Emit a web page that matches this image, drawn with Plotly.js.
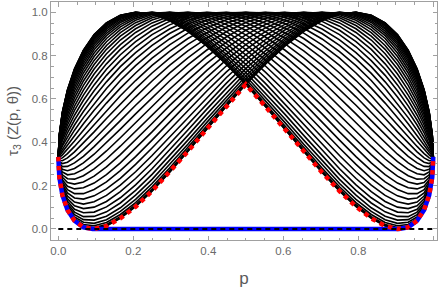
<!DOCTYPE html>
<html><head><meta charset="utf-8">
<script src="https://cdn.plot.ly/plotly-3.0.1.min.js"></script>
<style>html,body{margin:0;padding:0;background:#fff}#chart{width:441px;height:289px}</style>
</head><body><div id="chart"></div>
<script>
// p grid (denser near the ends)
const pGrid = [0, 0.002739, 0.010926, 0.024472, 0.043227, 0.066987, 0.095492, 0.128428, 0.165435, 0.206107, 0.25, 0.296632, 0.345492, 0.396044, 0.447736, 0.5, 0.552264, 0.603956, 0.654508, 0.703368, 0.75, 0.793893, 0.834565, 0.871572, 0.904508, 0.933013, 0.956773, 0.975528, 0.989074, 0.997261, 1];
// same grid read from the right end (used for the mirrored curves theta -> 180 - theta)
const pGridRev = [1, 0.997261, 0.989074, 0.975528, 0.956773, 0.933013, 0.904508, 0.871572, 0.834565, 0.793893, 0.75, 0.703368, 0.654508, 0.603956, 0.552264, 0.5, 0.447736, 0.396044, 0.345492, 0.296632, 0.25, 0.206107, 0.165435, 0.128428, 0.095492, 0.066987, 0.043227, 0.024472, 0.010926, 0.002739, 0];

const thetaDeg = [0, 4, 8, 12, 16, 20, 24, 28, 32, 36, 40, 44, 48, 52, 56, 60, 64, 68, 72, 76, 80, 84, 88];

const tau0  = [0.333,0.239,0.156,0.088,0.038,0.008,0.000,0.014,0.049,0.103,0.175,0.261,0.358,0.461,0.565,0.667,0.761,0.844,0.912,0.962,0.992,1.000,0.986,0.951,0.897,0.825,0.739,0.642,0.539,0.435,0.333];
const tau4  = [0.333,0.239,0.157,0.089,0.039,0.010,0.002,0.016,0.051,0.105,0.177,0.263,0.360,0.463,0.567,0.668,0.762,0.845,0.913,0.962,0.992,1.000,0.986,0.951,0.896,0.824,0.738,0.642,0.539,0.435,0.333];
const tau8  = [0.333,0.240,0.158,0.091,0.043,0.014,0.007,0.021,0.057,0.112,0.184,0.270,0.366,0.469,0.572,0.673,0.766,0.848,0.915,0.964,0.992,1.000,0.985,0.950,0.895,0.823,0.736,0.640,0.538,0.434,0.333];
const tau12 = [0.333,0.241,0.161,0.096,0.048,0.021,0.015,0.030,0.067,0.122,0.195,0.281,0.377,0.478,0.581,0.681,0.773,0.854,0.919,0.966,0.993,0.999,0.984,0.948,0.892,0.820,0.734,0.638,0.536,0.433,0.333];
const tau16 = [0.333,0.243,0.165,0.101,0.056,0.031,0.026,0.043,0.081,0.137,0.210,0.296,0.391,0.492,0.594,0.692,0.782,0.861,0.924,0.969,0.995,0.999,0.982,0.945,0.888,0.815,0.729,0.634,0.533,0.431,0.333];
const tau20 = [0.333,0.245,0.169,0.109,0.066,0.043,0.041,0.059,0.098,0.156,0.229,0.315,0.410,0.509,0.609,0.706,0.794,0.870,0.930,0.973,0.996,0.998,0.980,0.941,0.883,0.810,0.724,0.629,0.530,0.430,0.333];
const tau24 = [0.333,0.248,0.175,0.117,0.078,0.057,0.058,0.079,0.120,0.178,0.252,0.338,0.432,0.530,0.628,0.722,0.807,0.880,0.938,0.978,0.998,0.997,0.976,0.936,0.877,0.803,0.718,0.624,0.525,0.427,0.333];
const tau28 = [0.333,0.251,0.182,0.128,0.091,0.075,0.078,0.102,0.144,0.204,0.278,0.364,0.457,0.553,0.649,0.740,0.822,0.892,0.946,0.982,0.999,0.995,0.972,0.929,0.870,0.795,0.710,0.617,0.520,0.424,0.333];
const tau32 = [0.333,0.255,0.189,0.139,0.107,0.094,0.101,0.127,0.172,0.233,0.307,0.393,0.485,0.579,0.672,0.760,0.839,0.904,0.954,0.987,1.000,0.993,0.967,0.922,0.861,0.786,0.701,0.609,0.514,0.421,0.333];
const tau36 = [0.333,0.259,0.198,0.152,0.124,0.115,0.126,0.155,0.202,0.264,0.339,0.424,0.515,0.607,0.698,0.782,0.856,0.918,0.963,0.991,1.000,0.990,0.960,0.913,0.851,0.776,0.691,0.600,0.508,0.418,0.333];
const tau40 = [0.333,0.263,0.207,0.166,0.143,0.138,0.153,0.185,0.234,0.298,0.374,0.458,0.547,0.637,0.724,0.804,0.874,0.931,0.972,0.995,0.999,0.985,0.953,0.903,0.840,0.764,0.680,0.591,0.501,0.414,0.333];
const tau44 = [0.333,0.268,0.217,0.181,0.163,0.163,0.182,0.217,0.269,0.334,0.410,0.494,0.581,0.668,0.752,0.828,0.893,0.944,0.980,0.998,0.998,0.979,0.943,0.892,0.827,0.751,0.667,0.580,0.493,0.409,0.333];
const tau48 = [0.333,0.273,0.227,0.197,0.185,0.190,0.212,0.251,0.305,0.372,0.448,0.531,0.616,0.700,0.780,0.851,0.911,0.957,0.987,1.000,0.995,0.972,0.933,0.879,0.812,0.736,0.653,0.568,0.484,0.405,0.333];
const tau52 = [0.333,0.279,0.239,0.214,0.207,0.217,0.244,0.287,0.343,0.411,0.487,0.569,0.651,0.732,0.807,0.874,0.928,0.968,0.993,1.000,0.990,0.963,0.920,0.864,0.796,0.720,0.638,0.556,0.475,0.400,0.333];
const tau56 = [0.333,0.285,0.250,0.232,0.230,0.246,0.277,0.323,0.382,0.451,0.527,0.607,0.687,0.764,0.835,0.896,0.944,0.979,0.997,0.999,0.983,0.952,0.906,0.847,0.778,0.702,0.622,0.542,0.465,0.394,0.333];
const tau60 = [0.333,0.291,0.263,0.250,0.255,0.275,0.311,0.360,0.421,0.491,0.567,0.645,0.722,0.796,0.861,0.917,0.959,0.987,1.000,0.995,0.975,0.939,0.890,0.829,0.759,0.683,0.605,0.528,0.454,0.389,0.333];
const tau64 = [0.333,0.297,0.275,0.269,0.279,0.305,0.345,0.398,0.461,0.531,0.606,0.683,0.757,0.826,0.886,0.936,0.972,0.994,1.000,0.990,0.964,0.924,0.872,0.809,0.738,0.663,0.587,0.512,0.443,0.383,0.333];
const tau68 = [0.333,0.303,0.288,0.289,0.305,0.335,0.380,0.435,0.500,0.571,0.645,0.719,0.790,0.855,0.910,0.953,0.983,0.998,0.998,0.982,0.951,0.907,0.851,0.787,0.715,0.641,0.567,0.496,0.432,0.377,0.333];
const tau72 = [0.333,0.310,0.302,0.308,0.330,0.366,0.414,0.473,0.539,0.610,0.683,0.755,0.822,0.881,0.931,0.968,0.992,1.000,0.993,0.971,0.936,0.887,0.829,0.762,0.691,0.618,0.547,0.480,0.420,0.371,0.333];
const tau76 = [0.333,0.317,0.315,0.328,0.356,0.396,0.448,0.510,0.577,0.648,0.720,0.789,0.852,0.906,0.950,0.980,0.997,0.999,0.986,0.958,0.917,0.865,0.804,0.737,0.665,0.594,0.525,0.462,0.408,0.364,0.333];
const tau80 = [0.333,0.323,0.328,0.348,0.381,0.427,0.482,0.546,0.615,0.685,0.755,0.820,0.879,0.928,0.966,0.990,1.000,0.995,0.975,0.942,0.897,0.841,0.777,0.709,0.638,0.568,0.503,0.444,0.395,0.358,0.333];
const tau84 = [0.333,0.330,0.342,0.368,0.406,0.456,0.516,0.581,0.650,0.720,0.788,0.850,0.904,0.948,0.979,0.996,0.999,0.988,0.962,0.923,0.873,0.814,0.749,0.679,0.609,0.542,0.480,0.426,0.382,0.351,0.333];
const tau88 = [0.333,0.337,0.355,0.387,0.431,0.486,0.548,0.615,0.685,0.754,0.819,0.877,0.926,0.964,0.989,1.000,0.996,0.977,0.946,0.902,0.847,0.785,0.718,0.648,0.579,0.514,0.456,0.407,0.369,0.344,0.333];

// lower envelope (red dotted)
const redEnvelope = [0.333,0.239,0.156,0.088,0.038,0.008,0.000,0.014,0.049,0.103,0.175,0.261,0.358,0.461,0.565,0.667,0.565,0.461,0.358,0.261,0.175,0.103,0.049,0.014,0.000,0.008,0.038,0.088,0.156,0.239,0.333];
// convex roof (blue)
const pBlue = [0, 0.002739, 0.010926, 0.024472, 0.043227, 0.066987, 0.0917, 0.9083, 0.933013, 0.956773, 0.975528, 0.989074, 0.997261, 1];
const blueRoof = [0.333,0.239,0.156,0.088,0.038,0.008,0.000,0.000,0.008,0.038,0.088,0.156,0.239,0.333];
// zero reference (black dashed)
const pZero = [0, 1];
const zeroLine = [0, 0];

const tickVals = [0, 0.2, 0.4, 0.6, 0.8, 1.0];
const tickText = ['0.0', '0.2', '0.4', '0.6', '0.8', '1.0'];

const curves = [tau0, tau4, tau8, tau12, tau16, tau20, tau24, tau28, tau32, tau36, tau40, tau44, tau48, tau52, tau56, tau60, tau64, tau68, tau72, tau76, tau80, tau84, tau88];

const traces = [];
curves.forEach(function (ys, i) {
  traces.push({x: pGrid, y: ys, type: 'scatter', mode: 'lines', name: 'θ=' + thetaDeg[i] + '°',
    line: {color: '#000000', width: 1.6}, hoverinfo: 'skip'});
  traces.push({x: pGridRev, y: ys, type: 'scatter', mode: 'lines', name: 'θ=' + (180 - thetaDeg[i]) + '°',
    line: {color: '#000000', width: 1.6}, hoverinfo: 'skip'});
});
traces.push({x: pBlue, y: blueRoof, type: 'scatter', mode: 'lines', name: 'roof',
  line: {color: '#0000ff', width: 4.5}});
traces.push({x: pGrid, y: redEnvelope, type: 'scatter', mode: 'lines', name: 'min',
  line: {color: '#ff0000', width: 4.5, dash: '4.5px,4.5px'}});
traces.push({x: pZero, y: zeroLine, type: 'scatter', mode: 'lines', name: 'zero',
  line: {color: '#000000', width: 2, dash: '5px,4px'}});

const axisCommon = {
  showline: true, linecolor: '#a0a0a0', linewidth: 1, mirror: 'allticks',
  ticks: 'inside', ticklen: 4.5, tickwidth: 1, tickcolor: '#a0a0a0',
  showgrid: false, zeroline: false,
  tickvals: tickVals, ticktext: tickText,
  tickfont: {family: 'Liberation Sans, Arial, sans-serif', size: 11.5, color: '#6a6a6a'},
  minor: {tick0: 0, dtick: 0.05, ticks: 'inside', ticklen: 2.5, tickwidth: 1, tickcolor: '#a0a0a0', showgrid: false}
};

const layout = {
  width: 441, height: 289,
  margin: {l: 51, r: 4, t: 2, b: 49, pad: 0},
  paper_bgcolor: '#ffffff', plot_bgcolor: '#ffffff',
  showlegend: false,
  xaxis: Object.assign({}, axisCommon, {
    range: [-0.0195, 1.0099],
    title: {text: 'p', standoff: 16, font: {family: 'Liberation Sans, Arial, sans-serif', size: 17, color: '#5a5a5a'}}
  }),
  yaxis: Object.assign({}, axisCommon, {
    range: [-0.0508, 1.0475],
    title: {text: 'τ<sub>3</sub> (Z(p, θ))', standoff: 9, font: {family: 'Liberation Sans, Arial, sans-serif', size: 15, color: '#5a5a5a'}}
  })
};

Plotly.newPlot('chart', traces, layout, {staticPlot: true, displayModeBar: false});
</script>
</body></html>
